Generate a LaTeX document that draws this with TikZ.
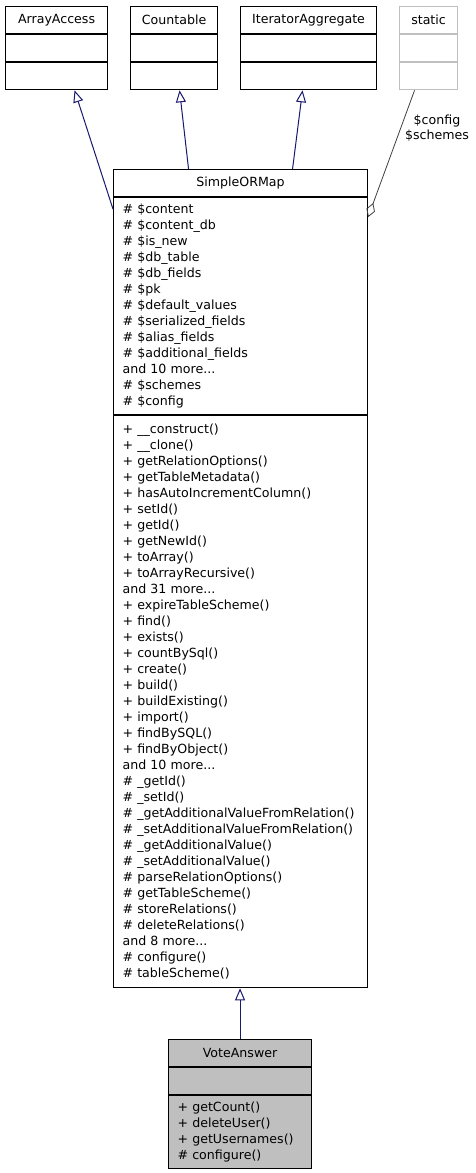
\documentclass[tikz,border=0pt]{standalone}
\usepackage{fontspec}
\setmainfont{DejaVu Sans}
\usetikzlibrary{arrows.meta,calc,positioning}
\definecolor{inheritline}{RGB}{25,25,112}
\definecolor{usageline}{RGB}{64,64,64}
\definecolor{hiddenbox}{RGB}{191,191,191}
\definecolor{currentclass}{RGB}{191,191,191}
\tikzset{
  classfont/.style={font=\fontsize{12.6}{16}\selectfont},
  classhead/.style={classfont,draw=black,line width=1.1pt,anchor=north west,minimum height=27pt,inner sep=0pt},
  classpart/.style={classfont,draw=black,line width=1.1pt,minimum height=27pt,inner xsep=9pt,inner ysep=0pt,align=left},
  inherit/.style={draw=inheritline,line width=1pt,-{Triangle[open,length=12pt,width=10pt]}},
  usage/.style={draw=usageline,line width=0.8pt,-{Diamond[open,length=15pt,width=9pt]}}
}

\begin{document}
\begin{tikzpicture}[x=1pt,y=-1pt]
  \useasboundingbox (0,0) rectangle (476,1173);
  % parent interfaces and static members
  \foreach \n/\x/\w/\t/\c in {aa/5/102/ArrayAccess/black,cnt/130/87/Countable/black,ita/240/136/IteratorAggregate/black,st/399/58/static/hiddenbox}{
    \node[classhead,draw=\c,minimum width=\w pt] (\n-head) at (\x,6) {\t};
    \node[classpart,draw=\c,minimum width=\w pt,below=0pt of \n-head] (\n-attr) {};
    \node[classpart,draw=\c,minimum width=\w pt,below=0pt of \n-attr] (\n-meth) {};
  }
  % SimpleORMap
  \node[classhead,minimum width=254pt] (som-head) at (113,169) {SimpleORMap};
  \node[classpart,text width=236pt,minimum height=217pt,below=0pt of som-head] (som-attr) {\# \$content\\\# \$content\_db\\\# \$is\_new\\\# \$db\_table\\\# \$db\_fields\\\# \$pk\\\# \$default\_values\\\# \$serialized\_fields\\\# \$alias\_fields\\\# \$additional\_fields\\and 10 more...\\\# \$schemes\\\# \$config};
  \node[classpart,text width=236pt,minimum height=572pt,below=0pt of som-attr] (som-meth) {+ \_\_construct()\\+ \_\_clone()\\+ getRelationOptions()\\+ getTableMetadata()\\+ hasAutoIncrementColumn()\\+ setId()\\+ getId()\\+ getNewId()\\+ toArray()\\+ toArrayRecursive()\\and 31 more...\\+ expireTableScheme()\\+ find()\\+ exists()\\+ countBySql()\\+ create()\\+ build()\\+ buildExisting()\\+ import()\\+ findBySQL()\\+ findByObject()\\and 10 more...\\\# \_getId()\\\# \_setId()\\\# \_getAdditionalValueFromRelation()\\\# \_setAdditionalValueFromRelation()\\\# \_getAdditionalValue()\\\# \_setAdditionalValue()\\\# parseRelationOptions()\\\# getTableScheme()\\\# storeRelations()\\\# deleteRelations()\\and 8 more...\\\# configure()\\\# tableScheme()};
  % VoteAnswer
  \node[classhead,fill=currentclass,minimum width=143pt] (va-head) at (168,1039) {VoteAnswer};
  \node[classpart,fill=currentclass,minimum width=143pt,below=0pt of va-head] (va-attr) {};
  \node[classpart,fill=currentclass,text width=125pt,minimum height=73pt,below=0pt of va-attr] (va-meth) {+ getCount()\\+ deleteUser()\\+ getUsernames()\\\# configure()};
  % edges
  \draw[inherit] ([yshift=-12pt]som-attr.north west) -- ([xshift=18pt]aa-meth.south);
  \draw[inherit] ([xshift=-52pt]som-head.north) -- ([xshift=5.5pt]cnt-meth.south);
  \draw[inherit] ([xshift=52pt]som-head.north) -- ([xshift=-6pt]ita-meth.south);
  \draw[usage] ([xshift=-14pt]st-meth.south) -- ([yshift=-20pt]som-attr.north east);
  \node[font=\fontsize{12.6}{15}\selectfont,align=center] (st-label) at (437,128) {\$config\\\$schemes};
  \draw[inherit] (va-head.north) -- (va-head.north |- som-meth.south);
\end{tikzpicture}
\end{document}
